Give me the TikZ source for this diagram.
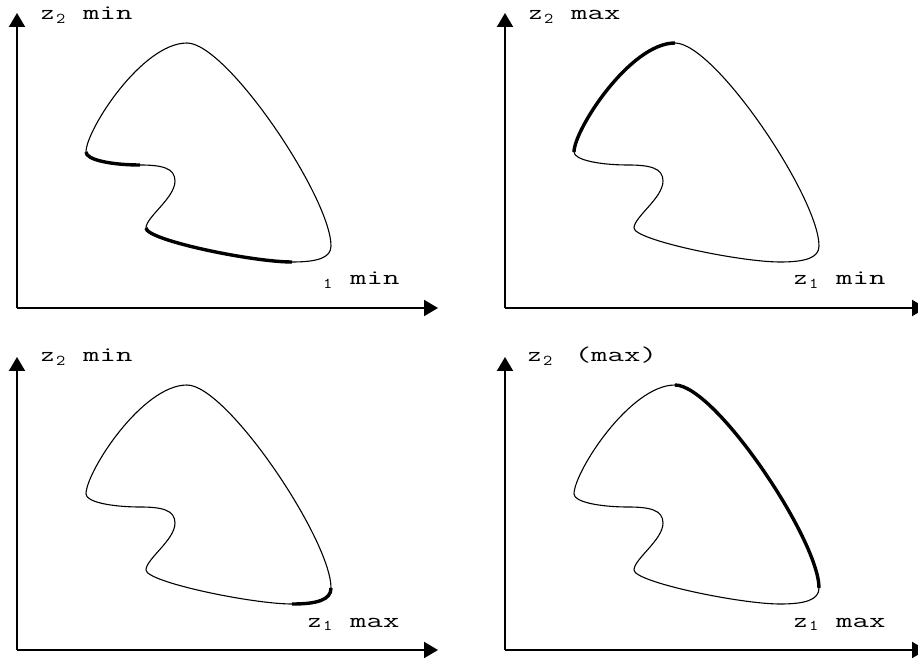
\documentclass[tikz,border=0pt]{standalone}
\usepackage{fontspec}
\usepackage{graphicx}
\usepackage{tikz}
\usetikzlibrary{arrows.meta}

% axis label: letter, index, word
\newcommand{\zlabel}[3]{%
  \makebox[15pt][l]{\scalebox{1.2}[1]{#1}}%
  \makebox[27pt][l]{\raisebox{-3.5pt}{\fontsize{15}{15}\selectfont\scalebox{1.2}[1]{#2}}}%
  \scalebox{1.52}[1]{#3}}

% corner points of the region, then its outline
\newcommand{\region}{%
  \coordinate (A) at (170,265);
  \coordinate (B) at (314,62);
  \coordinate (C) at (275,46);
  \coordinate (D) at (129,80);
  \coordinate (E) at (158,127);
  \coordinate (F) at (123,143);
  \coordinate (G) at (69,156);
  \draw[front] (A) .. controls +(40,0) and +(0,48) .. (B)
    .. controls +(0,-12) and +(25,0) .. (C)
    .. controls +(-40,0) and +(0,-12) .. (D)
    .. controls +(0,11) and +(0,-17) .. (E)
    .. controls +(0,13) and +(22,0) .. (F)
    .. controls +(-28,0) and +(0,-8) .. (G)
    .. controls +(0,22) and +(-45,0) .. (A);
}

\begin{document}
\begin{tikzpicture}[
    x=1pt, y=1pt,
    axis/.style={line width=2pt, -{Triangle[length=14pt, width=16pt]}},
    front/.style={line width=1.1pt, line cap=round},
    best/.style={line width=3.4pt},
    lbl/.style={anchor=base west, inner sep=0pt,
        font=\ttfamily\addfontfeature{FakeBold=1.2}\fontsize{21}{21}\selectfont}
]
\useasboundingbox (0,0) rectangle (918,659);
\clip (0,0) rectangle (918,659);

% top left: z1 min, z2 min
\begin{scope}[shift={(17,351)}]
  \coordinate (o1) at (0,0);
  \draw[axis] (o1) -- (0,295);
  \draw[axis] (o1) -- (421,0);
  \node[lbl] (ylab1) at (24,288) {\zlabel{z}{2}{min}};
  \node[lbl] (xlab1) at (291,23) {\zlabel{}{1}{min}};
  \region
  \draw[best] (F) .. controls +(-28,0) and +(0,-8) .. (G);
  \draw[best] (C) .. controls +(-40,0) and +(0,-12) .. (D);
\end{scope}

% top right: z1 min, z2 max
\begin{scope}[shift={(505,351)}]
  \coordinate (o2) at (0,0);
  \draw[axis] (o2) -- (0,295);
  \draw[axis] (o2) -- (421,0);
  \node[lbl] (ylab2) at (24,288) {\zlabel{z}{2}{max}};
  \node[lbl] (xlab2) at (289,23) {\zlabel{z}{1}{min}};
  \region
  \draw[best] (G) .. controls +(0,22) and +(-45,0) .. (A);
\end{scope}

% bottom left: z1 max, z2 min
\begin{scope}[shift={(17,9)}]
  \coordinate (o3) at (0,0);
  \draw[axis] (o3) -- (0,293);
  \draw[axis] (o3) -- (421,0);
  \node[lbl] (ylab3) at (24,288) {\zlabel{z}{2}{min}};
  \node[lbl] (xlab3) at (291,23) {\zlabel{z}{1}{max}};
  \region
  \draw[best] (B) .. controls +(0,-12) and +(25,0) .. (C);
\end{scope}

% bottom right: z1 max, z2 (max)
\begin{scope}[shift={(505,9)}]
  \coordinate (o4) at (0,0);
  \draw[axis] (o4) -- (0,293);
  \draw[axis] (o4) -- (421,0);
  \node[lbl] (ylab4) at (23,288) {\zlabel{z}{2}{\hspace{3pt}(max)}};
  \node[lbl] (xlab4) at (289,23) {\zlabel{z}{1}{max}};
  \region
  \draw[best] (A) .. controls +(40,0) and +(0,48) .. (B);
\end{scope}

\end{tikzpicture}
\end{document}
